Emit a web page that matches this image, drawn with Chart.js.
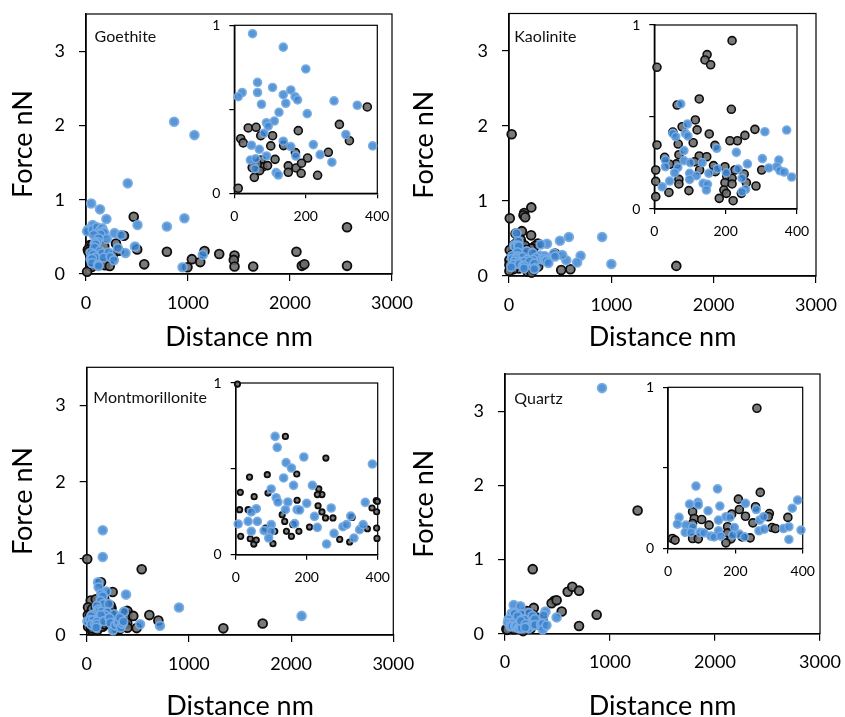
<!DOCTYPE html>
<html>
<head>
<meta charset="utf-8">
<title>Force vs distance</title>
<script src="https://cdn.jsdelivr.net/npm/chart.js@4.4.1/dist/chart.umd.min.js"></script>
<style>
  html, body { margin: 0; padding: 0; background: #fff; overflow: hidden; }
  #page { position: relative; width: 845px; height: 717px; overflow: hidden; }
  #page canvas { position: absolute; }
</style>
</head>
<body>
<div id="page"></div>
<script>
// distance (nm), force (nN) pairs for each mineral
const goethiteBlue = [
  [51,0.95],[137,0.87],[200,0.74],[65,0.66],[22,0.60],[11,0.575],[65,0.60],[107,0.63],[137,0.587],[158,0.615],
  [170,0.575],[177,0.556],[144,0.536],[76,0.53],[279,0.55],[344,0.524],[204,0.474],[125,0.482],[112,0.43],[90,0.42],
  [95,0.40],[83,0.357],[312,0.35],[137,0.31],[48,0.286],[158,0.278],[221,0.29],[387,0.282],[70,0.262],[90,0.222],
  [172,0.222],[240,0.23],[45,0.198],[60,0.206],[273,0.185],[58,0.147],[117,0.123],[123,0.109],
  [864,2.05],[1063,1.87],[409,1.22],[505,0.66],[793,0.64],[965,0.75],[480,0.37],[947,0.09],[1145,0.26]
];
const goethiteDark = [
  [372,0.514],[294,0.41],[322,0.313],[179,0.373],[39,0.389],[61,0.393],[18,0.325],[25,0.30],[74,0.343],[107,0.343],
  [102,0.282],[138,0.284],[263,0.244],[205,0.21],[171,0.242],[114,0.202],[75,0.198],[50,0.153],[80,0.157],[93,0.165],
  [151,0.163],[173,0.151],[188,0.179],[71,0.135],[151,0.125],[187,0.119],[233,0.107],[56,0.095],[11,0.03],[64,0.175],
  [468,0.77],[502,0.33],[571,0.13],[793,0.30],[1038,0.20],[995,0.09],[1120,0.16],[1162,0.31],[1306,0.27],[1456,0.25],
  [1449,0.19],[1456,0.10],[1639,0.10],[2063,0.30],[2116,0.11],[2141,0.13],[2559,0.63],[2559,0.11]
];

const kaoliniteBlue = [
  [74,0.571],[371,0.429],[310,0.42],[93,0.462],[52,0.411],[60,0.393],[87,0.411],[94,0.397],[175,0.33],[83,0.317],
  [230,0.308],[31,0.266],[83,0.263],[101,0.252],[134,0.252],[303,0.274],[349,0.266],[261,0.245],[31,0.23],[66,0.226],
  [177,0.219],[235,0.217],[321,0.223],[343,0.23],[352,0.208],[364,0.201],[385,0.174],[57,0.197],[99,0.194],[118,0.181],
  [153,0.194],[202,0.197],[246,0.168],[43,0.152],[99,0.161],[137,0.139],[149,0.134],[22,0.121],[146,0.103],[256,0.107],
  [246,0.094],
  [498,0.47],[585,0.52],[910,0.52],[1000,0.16],[700,0.27],[665,0.18],[560,0.21],[440,0.30],[520,0.28],[450,0.26]
];
const kaoliniteDark = [
  [218,0.915],[148,0.839],[142,0.81],[158,0.784],[7.5,0.77],[126,0.598],[64,0.565],[216,0.542],[115,0.484],[78,0.447],
  [120,0.43],[282,0.433],[254,0.40],[233,0.371],[212,0.371],[154,0.408],[52,0.418],[7.5,0.348],[67,0.353],[109,0.36],
  [170,0.346],[69,0.295],[29,0.281],[126,0.288],[147,0.284],[113,0.257],[62,0.245],[43,0.243],[166,0.236],[198,0.23],
  [4,0.212],[127,0.212],[226,0.212],[301,0.212],[171,0.203],[252,0.19],[203,0.179],[218,0.167],[69,0.161],[4,0.15],
  [198,0.143],[218,0.136],[69,0.136],[285,0.125],[97,0.10],[41,0.09],[195,0.103],[202,0.085],[4,0.067],[182,0.058],
  [221,0.045],[244,0.085],[258,0.143],
  [26,1.89],[1635,0.135],[510,0.08],[600,0.09],[450,0.30]
];

const montmorilloniteBlue = [
  [111,0.689],[117,0.625],[192,0.569],[142,0.536],[157,0.505],[385,0.528],[135,0.447],[163,0.404],[100,0.383],[216,0.404],
  [114,0.332],[119,0.307],[147,0.307],[200,0.299],[173,0.262],[180,0.26],[140,0.262],[58,0.268],[44,0.249],[269,0.272],
  [365,0.305],[7,0.179],[35,0.194],[61,0.194],[44,0.136],[80,0.14],[100,0.175],[100,0.136],[93,0.097],[166,0.181],
  [222,0.223],[230,0.159],[256,0.062],[277,0.124],[302,0.163],[312,0.175],[324,0.225],[333,0.097],[349,0.146],[359,0.175],
  [157,1.37],[157,1.02],[903,0.36],[2103,0.25],[717,0.12],[522,0.14]
];
const montmorilloniteDark = [
  [5,0.994],[140,0.689],[254,0.563],[39,0.452],[89,0.466],[172,0.47],[13,0.363],[52,0.338],[91,0.359],[173,0.317],
  [234,0.383],[243,0.35],[230,0.35],[232,0.285],[11,0.262],[35,0.262],[131,0.233],[243,0.249],[253,0.214],[274,0.214],
  [328,0.217],[396,0.315],[399,0.31],[384,0.272],[397,0.25],[397,0.155],[371,0.151],[14,0.107],[41,0.093],[51,0.062],
  [58,0.085],[105,0.064],[138,0.194],[143,0.136],[157,0.107],[178,0.136],[208,0.161],[161,0.175],[293,0.089],[321,0.074],
  [398,0.095],[110,0.136],[84,0.155],
  [538,0.86],[613,0.26],[701,0.19],[456,0.25],[489,0.09],[1337,0.087],[1722,0.15]
];

const quartzBlue = [
  [83,0.387],[147,0.37],[64,0.275],[89,0.286],[90,0.27],[154,0.263],[119,0.234],[230,0.28],[385,0.30],[369,0.25],
  [262,0.242],[33,0.193],[28,0.151],[53,0.145],[73,0.135],[51,0.10],[68,0.10],[95,0.10],[107,0.097],[127,0.077],
  [137,0.072],[150,0.11],[157,0.077],[172,0.197],[184,0.193],[150,0.176],[197,0.13],[212,0.089],[227,0.072],[272,0.176],
  [284,0.197],[270,0.11],[286,0.12],[343,0.124],[359,0.135],[359,0.056],[395,0.114],[192,0.083],
  [924,3.31],[492,0.22]
];
const quartzDark = [
  [264,0.87],[274,0.348],[209,0.306],[260,0.259],[212,0.242],[189,0.213],[230,0.20],[252,0.159],[301,0.217],[298,0.197],
  [356,0.193],[309,0.13],[319,0.124],[73,0.228],[78,0.186],[100,0.18],[122,0.145],[177,0.135],[187,0.06],[172,0.035],
  [220,0.072],[244,0.066],[73,0.062],[90,0.06],[13,0.062],[21,0.052],[177,0.097],[73,0.155],
  [597,0.566],[641,0.633],[705,0.58],[873,0.256],[705,0.103],[470,0.445],[444,0.41],[492,0.45],[540,0.30],[1263,1.66]
];

// axis ranges and tick steps
const mainDistanceTicks = [0, 3000, 1000];
const mainForceTicks = [0, 3.5, 1];
const insetDistanceTicks = [0, 400, 200];
const insetForceTicks = [0, 1, 0.5];

const FONT = 'Lato';
const TITLE_SIZE = 27;
const BLUE = { backgroundColor: 'rgba(60,132,207,0.85)', borderColor: 'rgba(120,172,228,0.95)' };
const DARK = { backgroundColor: 'rgba(108,108,108,0.9)', borderColor: '#0d0d0d' };

// box = canvas placement, area = plot rectangle [left, top, right, bottom] in page pixels
const panels = [
  { name: 'Goethite', blue: goethiteBlue, dark: goethiteDark, label: [8.6, 22.7],
    main: { box: { left: 0, top: 0, w: 420, h: 360 }, area: [86, 14, 392, 274], titleX: 23, titleY: 337 },
    inset: { box: { left: 195, top: 10, w: 205, h: 225 }, area: [234.3, 25.3, 377.3, 193.3] } },
  { name: 'Kaolinite', blue: kaoliniteBlue, dark: kaoliniteDark, label: [5.3, 23],
    main: { box: { left: 405, top: 0, w: 440, h: 360 }, area: [509, 13.5, 816, 276], titleX: 424, titleY: 337 },
    inset: { box: { left: 615, top: 10, w: 205, h: 240 }, area: [654.3, 25, 797, 209] } },
  { name: 'Montmorillonite', blue: montmorilloniteBlue, dark: montmorilloniteDark, label: [6.6, 30.4], smallDark: true,
    main: { box: { left: 0, top: 360, w: 420, h: 370 }, area: [86.7, 367.3, 393.3, 635], titleX: 23, titleY: 706.7 },
    inset: { box: { left: 195, top: 368, w: 205, h: 225 }, area: [235.7, 383, 377.7, 554.7] } },
  { name: 'Quartz', blue: quartzBlue, dark: quartzDark, label: [9.3, 24.5],
    main: { box: { left: 405, top: 360, w: 440, h: 370 }, area: [505, 374, 820, 633.7], titleX: 424, titleY: 706.7 },
    inset: { box: { left: 628, top: 372, w: 200, h: 215 }, area: [668, 387.3, 802.7, 548.5] } }
];

// plot frame (top/right edges too) and white backing for the insets
const frame = {
  id: 'frame',
  beforeDraw(chart, args, opts) {
    if (!opts.fill) return;
    const { ctx, chartArea: a } = chart;
    ctx.save();
    ctx.fillStyle = '#fff';
    ctx.fillRect(a.left, a.top, a.right - a.left, a.bottom - a.top);
    ctx.restore();
  },
  beforeDatasetsDraw(chart) {
    const { ctx, chartArea: a } = chart;
    ctx.save();
    ctx.strokeStyle = '#000';
    ctx.lineWidth = 1.2;
    ctx.strokeRect(a.left, a.top, a.right - a.left, a.bottom - a.top);
    ctx.restore();
  }
};

// mineral name in the upper left of each plot
const panelLabel = {
  id: 'panelLabel',
  afterDraw(chart, args, opts) {
    if (!opts.text) return;
    const { ctx, chartArea: a } = chart;
    ctx.save();
    ctx.font = '16px ' + FONT;
    ctx.fillStyle = '#111';
    ctx.textBaseline = 'middle';
    ctx.fillText(opts.text, a.left + opts.dx, a.top + opts.dy);
    ctx.restore();
  }
};

Chart.register(frame, panelLabel);

const page = document.getElementById('page');

function addCanvas(box) {
  const c = document.createElement('canvas');
  c.width = box.w;
  c.height = box.h;
  c.style.left = box.left + 'px';
  c.style.top = box.top + 'px';
  page.appendChild(c);
  return c;
}

function series(points, style, radius, border, keep) {
  return Object.assign({
    data: points.filter(keep).map(([x, y]) => ({ x, y })),
    pointRadius: radius,
    borderWidth: border,
    clip: false
  }, style);
}

function axis(range, o) {
  const [min, max, step] = range;
  return {
    type: 'linear',
    position: o.position,
    min, max,
    bounds: 'data',
    afterFit(s) {
      if (o.position === 'bottom') s.height = o.size; else s.width = o.size;
      s.paddingTop = s.paddingBottom = s.paddingLeft = s.paddingRight = 0;
    },
    ticks: {
      stepSize: step,
      includeBounds: false,
      maxRotation: 0,
      autoSkip: false,
      padding: o.pad,
      color: '#000',
      font: { family: FONT, size: o.font },
      callback: o.hideMid ? (v => (v === 0.5 ? '' : v)) : (v => v)
    },
    grid: { display: true, drawOnChartArea: false, drawTicks: true, tickLength: o.tick, color: '#000', lineWidth: 1.2 },
    border: { display: true, color: '#000', width: 1.5 },
    title: o.title ? {
      display: true,
      text: o.title,
      color: '#000',
      font: { family: FONT, size: TITLE_SIZE },
      padding: o.position === 'bottom' ? { top: 0, bottom: o.titlePad } : { top: o.titlePad, bottom: 0 }
    } : { display: false }
  };
}

function baseOptions(box, area, plugins, scales) {
  return {
    responsive: false,
    animation: false,
    events: [],
    layout: { padding: { left: 0, top: area[1] - box.top, right: box.left + box.w - area[2], bottom: 0 } },
    plugins: Object.assign({ legend: { display: false }, tooltip: { enabled: false } }, plugins),
    scales
  };
}

const HALF_TITLE = TITLE_SIZE * 1.2 / 2;

panels.forEach(p => {
  // full range plot
  const m = p.main;
  const all = () => true;
  new Chart(addCanvas(m.box), {
    type: 'scatter',
    data: { datasets: [
      series(p.blue, BLUE, 4.4, 1.8, all),
      series(p.dark, DARK, 4.4, 1.8, all)
    ] },
    options: baseOptions(m.box, m.area,
      { panelLabel: { text: p.name, dx: p.label[0], dy: p.label[1] }, frame: { fill: false } },
      {
        x: axis(mainDistanceTicks, { position: 'bottom', size: m.box.top + m.box.h - m.area[3], tick: 7, pad: 11, font: 18,
          title: 'Distance nm', titlePad: m.box.top + m.box.h - m.titleY - HALF_TITLE }),
        y: axis(mainForceTicks, { position: 'left', size: m.area[0] - m.box.left, tick: 7, pad: 14, font: 18,
          title: 'Force nN', titlePad: m.titleX - m.box.left - HALF_TITLE })
      })
  });

  // close-up of the first 400 nm
  const n = p.inset;
  const near = pt => pt[0] <= 405 && pt[1] <= 1.01;
  new Chart(addCanvas(n.box), {
    type: 'scatter',
    data: { datasets: [
      series(p.blue, BLUE, 4.0, 1.6, near),
      p.smallDark ? series(p.dark, DARK, 2.7, 1.8, near) : series(p.dark, DARK, 4.0, 1.6, near)
    ] },
    options: baseOptions(n.box, n.area,
      { panelLabel: { text: '' }, frame: { fill: true } },
      {
        x: axis(insetDistanceTicks, { position: 'bottom', size: n.box.top + n.box.h - n.area[3], tick: 5, pad: 9.5, font: 14 }),
        y: axis(insetForceTicks, { position: 'left', size: n.area[0] - n.box.left, tick: 5, pad: 9, font: 14, hideMid: true })
      })
  });
});
</script>
</body>
</html>
